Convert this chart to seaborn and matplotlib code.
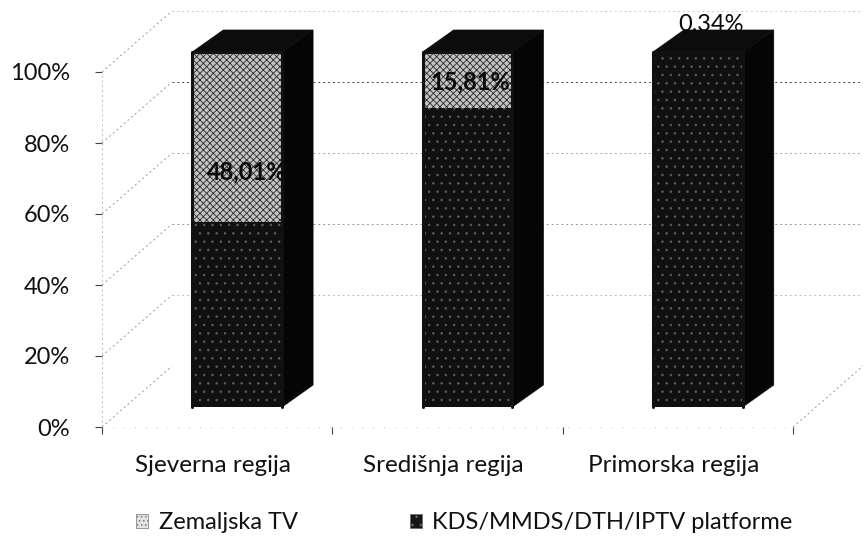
import matplotlib
matplotlib.use('Agg')
import matplotlib.pyplot as plt
from matplotlib.patches import Polygon, Patch
from matplotlib.transforms import Affine2D
import pandas as pd
import seaborn as sns

regions = ['Sjeverna regija', 'Središnja regija', 'Primorska regija']
zemaljska = [48.01, 15.81, 0.34]
kds = [51.99, 84.19, 99.66]
value_labels = ['48,01%', '15,81%', '0,34%']
y_ticks = [0, 20, 40, 60, 80, 100]

sns.set_theme(style='white')
plt.rcParams['font.family'] = ['Lato', 'DejaVu Sans']
plt.rcParams['hatch.linewidth'] = 0.6

W, H = 863, 537
fig = plt.figure(figsize=(W / 100, H / 100), dpi=100, facecolor='white')
ax = fig.add_axes([102 / W, (H - 427) / H, 691 / W, 355 / H])

# pixel to data units
px = 3 / 691
py = 100 / 355

df = pd.DataFrame({'region': regions, 'zem': zemaljska, 'kds': kds})
df['total'] = df['zem'] + df['kds']

sns.barplot(data=df, x='region', y='total', color='#c4c4c4', width=0.39, saturation=1,
            hatch='xxxxx', edgecolor='#2a2a2a', linewidth=0, ax=ax, zorder=3)
sns.barplot(data=df, x='region', y='kds', color='#101010', width=0.39, saturation=1,
            hatch='..', edgecolor='#5c5c5c', linewidth=0, ax=ax, zorder=4)

ax.set_xlim(-0.5, 2.5)
ax.set_ylim(0, 100)
for s in ax.spines.values():
    s.set_visible(False)

# bars stand a bit inside the floor
bar_dx, bar_dy = 20 * px, 20 * py
side_dx, side_dy = 31 * px, 22 * py
for cont in ax.containers:
    for p in cont.patches:
        p.set_x(p.get_x() + bar_dx)
        p.set_y(p.get_y() + bar_dy)
        p.set_clip_on(False)

for p in ax.containers[0].patches:
    x0, x1 = p.get_x(), p.get_x() + p.get_width()
    y0, y1 = p.get_y(), p.get_y() + p.get_height()
    ax.add_patch(Polygon([(x1, y0), (x1 + side_dx, y0 + side_dy), (x1 + side_dx, y1 + side_dy), (x1, y1)],
                         closed=True, fc='#050505', ec='#050505', lw=0.5, zorder=5, clip_on=False))
    ax.add_patch(Polygon([(x0, y1), (x0 + side_dx, y1 + side_dy), (x1 + side_dx, y1 + side_dy), (x1, y1)],
                         closed=True, fc='#0c0c0c', ec='#0c0c0c', lw=0.5, zorder=5, clip_on=False))
    # dark frame around the front face
    ax.plot([x0, x0, x1, x1], [y0, y1, y1, y0], color='#111111', lw=2.2, zorder=5, clip_on=False)

# back wall and floor lines
wall_dx, wall_dy = 70 * px, 61 * py
wall_colors = {20: '#bbbbbb', 40: '#999999', 60: '#aaaaaa', 80: '#444444', 100: '#cccccc'}
for v in y_ticks:
    ax.plot([-0.5, -0.5 + wall_dx], [v, v + wall_dy], color='#999999', lw=0.7, ls=(0, (2, 3)),
            zorder=1, clip_on=False)
    if v > 0:
        ax.plot([-0.5 + wall_dx, 2.5 + wall_dx], [v + wall_dy, v + wall_dy], color=wall_colors[v], lw=0.7,
                ls=(0, (2, 3)), zorder=1, clip_on=False)
ax.plot([2.5, 2.5 + wall_dx], [0, wall_dy], color='#999999', lw=0.7, ls=(0, (2, 3)), zorder=1, clip_on=False)
ax.plot([-0.5, -0.5], [0, 100], color='#bbbbbb', lw=0.7, ls=(0, (2, 3)), zorder=1)
ax.plot([-0.5, 2.5], [0, 0], color='#aaaaaa', lw=0.6, ls=(0, (1, 12)), zorder=1, clip_on=False)

ax.set_xlabel('')
ax.set_ylabel('')
ax.set_yticks(y_ticks)
ax.set_yticklabels([f'{v}%' for v in y_ticks], fontsize=17, color='#111111')
ax.tick_params(axis='y', left=True, length=5, width=0.8, color='#444444', pad=18)
ax.set_xticks([0, 1, 2])
ax.set_xticklabels(regions, fontsize=17.5, color='#111111')
ax.tick_params(axis='x', bottom=False, pad=14)
for lab in ax.get_xticklabels():
    lab.set_transform(lab.get_transform() + Affine2D().translate(-4, 0))
ax.set_xticks([-0.5, 0.5, 1.5, 2.5], minor=True)
ax.tick_params(axis='x', which='minor', bottom=True, length=5, width=0.8, color='#444444')

# value labels, placed by eye on each column
label_offsets = [(10, -35), (3, -2), (13, 28)]
label_weights = ['bold', 'bold', 'normal']
for i, txt in enumerate(value_labels):
    top = zemaljska[i] / 2 + kds[i]
    ax.annotate(txt, xy=(i + bar_dx, top + bar_dy), xytext=label_offsets[i], textcoords='offset pixels',
                ha='center', va='center', fontsize=17, fontweight=label_weights[i], color='#0a0a0a',
                zorder=7, annotation_clip=False)

handles = [Patch(fc='#e4e4e4', ec='#777777', lw=0.5, hatch='....'),
           Patch(fc='#161616', ec='#666666', lw=0.5, hatch='..')]
fig.legend(handles, ['Zemaljska TV', 'KDS/MMDS/DTH/IPTV platforme'], ncol=2, loc='lower left',
           bbox_to_anchor=(115 / W, -0.033), frameon=False, fontsize=17, handlelength=0.5, handleheight=0.5,
           handletextpad=0.45, columnspacing=4.75, labelcolor='#111111')

fig.savefig('out.png', dpi=100, facecolor='white')
